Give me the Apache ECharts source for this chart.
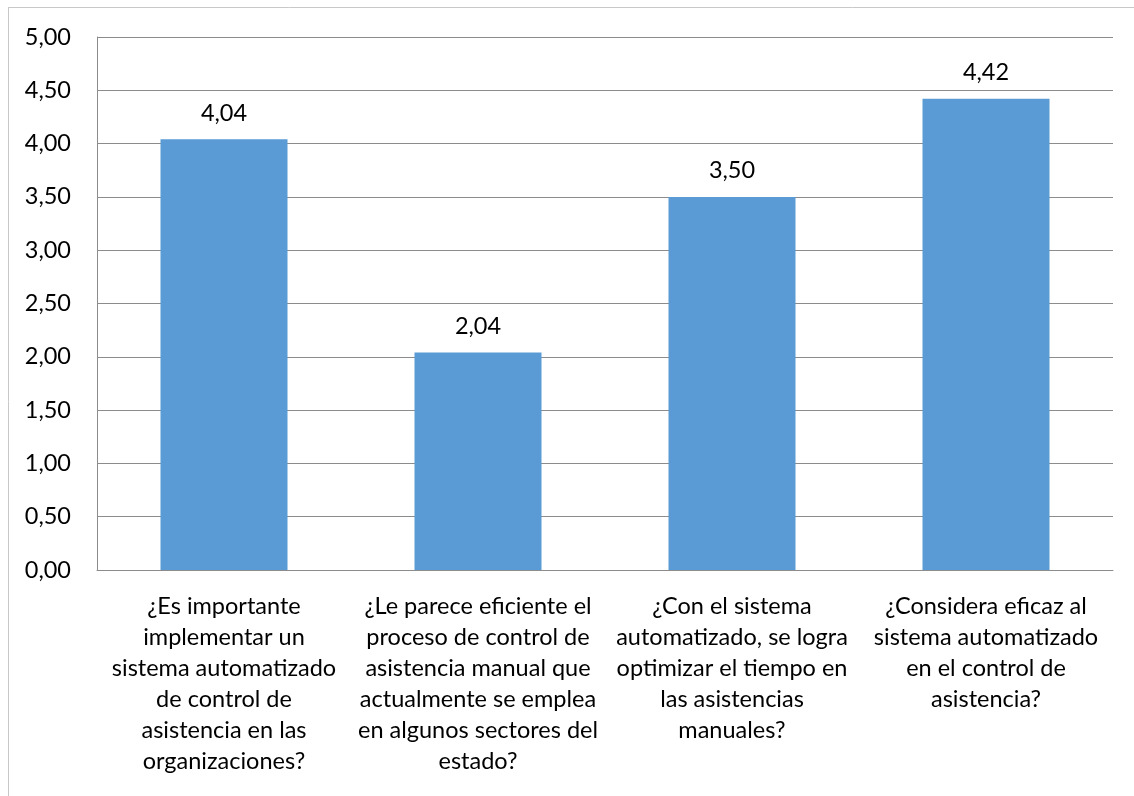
<!DOCTYPE html>
<html>
<head>
<meta charset="utf-8">
<script src="https://cdn.jsdelivr.net/npm/echarts@6/dist/echarts.min.js"></script>
<style>
  html, body { margin: 0; padding: 0; background: #fff; }
  #chart { width: 1134px; height: 796px; }
</style>
</head>
<body>
<div id="chart"></div>
<script>
var categories = [
    "¿Es importante\nimplementar un\nsistema automatizado\nde control de\nasistencia en las\norganizaciones?",
    "¿Le parece eficiente el\nproceso de control de\nasistencia manual que\nactualmente se emplea\nen algunos sectores del\nestado?",
    "¿Con el sistema\nautomatizado, se logra\noptimizar el tiempo en\nlas asistencias\nmanuales?",
    "¿Considera eficaz al\nsistema automatizado\nen el control de\nasistencia?"
];
var values = [4.04, 2.04, 3.50, 4.42];

var myChart = echarts.init(document.getElementById('chart'));
var fmt = function (v) { return Number(v).toFixed(2).replace('.', ','); };

option = {
    animation: false,
    textStyle: { fontFamily: 'Lato' },
    graphic: [
        { type: 'line', shape: { x1: 8, y1: 7.5, x2: 1134, y2: 7.5 }, style: { stroke: '#c8c8c8', lineWidth: 1 } },
        { type: 'line', shape: { x1: 8.5, y1: 7, x2: 8.5, y2: 796 }, style: { stroke: '#c8c8c8', lineWidth: 1 } }
    ],
    grid: { left: 97, right: 21, top: 37, bottom: 226 },
    xAxis: {
        type: 'category',
        data: categories,
        axisTick: { show: false },
        axisLine: { lineStyle: { color: '#8c8c8c' } },
        axisLabel: {
            color: '#000', fontSize: 23.5, lineHeight: 31, margin: 21,
            interval: 0, align: 'center'
        }
    },
    yAxis: {
        type: 'value',
        min: 0, max: 5, interval: 0.5,
        axisLine: { show: true, lineStyle: { color: '#8c8c8c' } },
        axisTick: { show: false },
        splitLine: { lineStyle: { color: '#8c8c8c' } },
        axisLabel: { color: '#000', fontSize: 23.5, margin: 26, formatter: fmt }
    },
    series: [
        {
            type: 'bar',
            data: values,
            barWidth: '50%',
            itemStyle: { color: '#5b9bd5' },
            label: {
                show: true, position: 'top', distance: 14,
                color: '#000', fontSize: 23.5,
                formatter: function (p) { return fmt(p.value); }
            }
        }
    ]
};
myChart.setOption(option);
</script>
</body>
</html>
